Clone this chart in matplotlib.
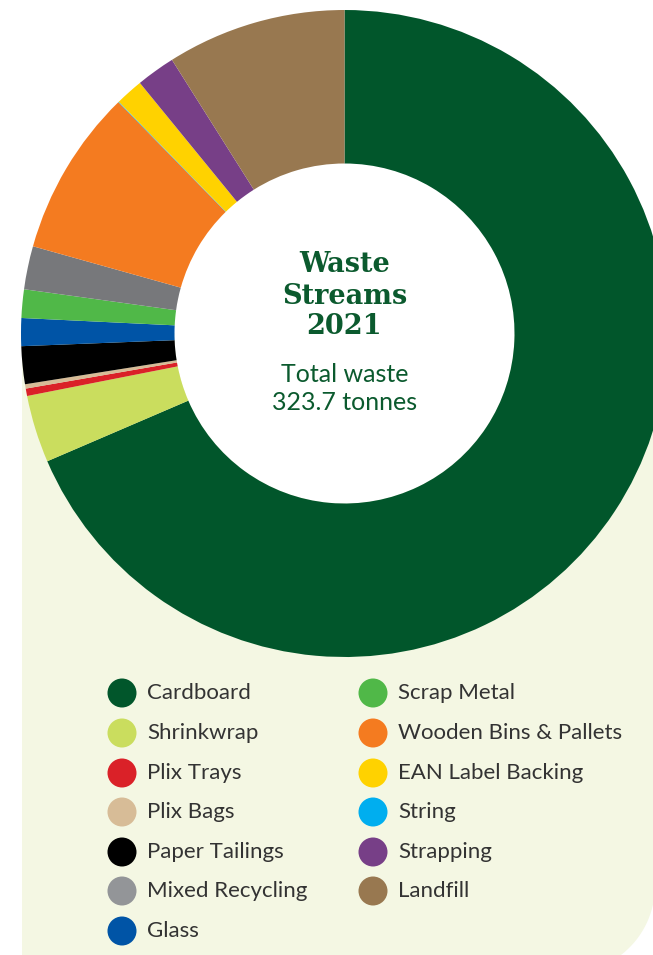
import numpy as np
import matplotlib
matplotlib.use('Agg')
import matplotlib.pyplot as plt
from matplotlib.patches import Polygon, Ellipse, Circle

# Waste streams 2021 (tonnes), in the order they appear clockwise from 12 o'clock
streams = ['Cardboard', 'Shrinkwrap', 'Plix Trays', 'Plix Bags', 'Paper Tailings',
           'Glass', 'Scrap Metal', 'Mixed Recycling', 'Wooden Bins & Pallets',
           'String', 'EAN Label Backing', 'Strapping', 'Landfill']
tonnes = [222.0, 10.9, 1.2, 0.7, 6.1, 4.5, 4.6, 7.0, 27.0, 0.1, 4.5, 6.3, 29.0]
colors = ['#01562b', '#cadd5e', '#da2128', '#d7bc97', '#000000', '#0054a6',
          '#50b848', '#77787b', '#f47b20', '#00aeef', '#ffd200', '#773f87', '#987850']

# legend layout (two columns)
legend_left = ['Cardboard', 'Shrinkwrap', 'Plix Trays', 'Plix Bags',
               'Paper Tailings', 'Mixed Recycling', 'Glass']
legend_right = ['Scrap Metal', 'Wooden Bins & Pallets', 'EAN Label Backing',
                'String', 'Strapping', 'Landfill']
legend_colors = dict(zip(streams, colors))
legend_colors['Mixed Recycling'] = '#939598'

title_lines = ['Waste', 'Streams', '2021']
total_lines = ['Total waste', '323.7 tonnes']

W, H = 653, 955
fig = plt.figure(figsize=(W / 100, H / 100), dpi=100)
ax = fig.add_axes([0, 0, 1, 1])

# pale panel behind the lower half, rounded bottom-right corner
r = 87
left, right, top, bottom = 22, 655, H - 333, H - 973
t = np.linspace(0, -np.pi / 2, 30)
arc = np.column_stack([right - r + r * np.cos(t), bottom + r + r * np.sin(t)])
panel = np.vstack([[left, top], [right, top], arc, [left, bottom]])
ax.add_patch(Polygon(panel, closed=True, facecolor='#f4f7e3', edgecolor='none', zorder=0))

# donut
cx, cy = 344.5, H - 333.5
R, R_in = 323.5, 170
ax.add_patch(Circle((cx, cy), R_in, facecolor='white', edgecolor='none', zorder=0.5))
ax.pie(tonnes, colors=colors, startangle=90, counterclock=False,
       center=(cx, cy), radius=R, frame=True,
       wedgeprops=dict(width=R - R_in, edgecolor='none', linewidth=0))

# centre text
green = '#0b5a2e'
for line, y in zip(title_lines, [264, 296, 327]):
    ax.text(cx, H - y, line, ha='center', va='center', fontsize=19.5,
            fontweight='bold', family='DejaVu Serif', color=green)
for line, y in zip(total_lines, [375, 403]):
    ax.text(cx, H - y, line, ha='center', va='center', fontsize=18,
            family='Lato', color=green)

# legend
row_y = [693, 733, 773, 812, 852, 891, 931]
for col_x, names in [(122, legend_left), (373, legend_right)]:
    for name, y in zip(names, row_y):
        ax.add_patch(Ellipse((col_x, H - y), 29, 29, facecolor=legend_colors[name],
                             edgecolor='none', zorder=3))
        ax.text(col_x + 25, H - y, name, ha='left', va='center', fontsize=16,
                family='Lato', color='#333333')

ax.set_xlim(0, W)
ax.set_ylim(0, H)
ax.set_aspect('equal')
ax.axis('off')

fig.savefig('out.png', dpi=100, facecolor='white')
